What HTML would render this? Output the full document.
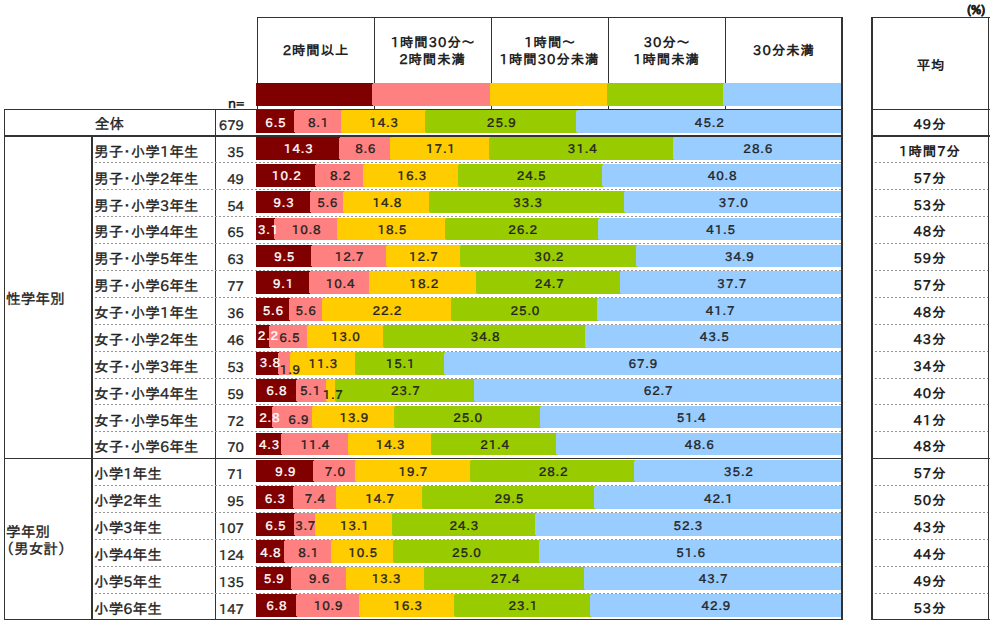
<!DOCTYPE html>
<html><head><meta charset="utf-8"><style>
*{margin:0;padding:0;box-sizing:border-box}
html,body{width:995px;height:625px;overflow:hidden;background:#fff}
body{position:relative;font-family:"IPAPGothic","Liberation Sans","IPAGothic","Noto Sans CJK JP",sans-serif;color:#222}
.a{position:absolute}
.l{position:absolute;background:#333}
.d{position:absolute;height:1px;background-image:linear-gradient(90deg,#969696 50%,transparent 50%);background-size:4px 1px}
.s{position:absolute}
.t{position:absolute;white-space:nowrap;line-height:1;-webkit-text-stroke:0.35px}
.v{position:absolute;white-space:nowrap;font:12px "IPAPGothic","Liberation Sans","IPAGothic",sans-serif;letter-spacing:1px;text-indent:1px;-webkit-text-stroke:0.4px;line-height:12px;text-align:center;width:60px}
.hd{position:absolute;font-weight:bold;font-size:13.33px;text-align:center;line-height:17px;white-space:nowrap;letter-spacing:1px;text-indent:1px}
</style></head><body>

<div class="t" style="left:967px;top:3px;font:bold 12px 'IPAPGothic','Liberation Sans',sans-serif;-webkit-text-stroke:0.5px">(%)</div>
<div class="l" style="left:257px;top:17px;width:586px;height:1px"></div>
<div class="l" style="left:257px;top:17px;width:1px;height:93px"></div>
<div class="l" style="left:374px;top:17px;width:1px;height:93px"></div>
<div class="l" style="left:491px;top:17px;width:1px;height:93px"></div>
<div class="l" style="left:608px;top:17px;width:1px;height:93px"></div>
<div class="l" style="left:725px;top:17px;width:1px;height:93px"></div>
<div class="l" style="left:841px;top:17px;width:2px;height:603px"></div>
<div class="hd" style="left:257px;top:41.5px;width:117px">2時間以上</div>
<div class="hd" style="left:374px;top:34.0px;width:117px">1時間30分～<br>2時間未満</div>
<div class="hd" style="left:491px;top:34.0px;width:117px">1時間～<br>1時間30分未満</div>
<div class="hd" style="left:608px;top:34.0px;width:117px">30分～<br>1時間未満</div>
<div class="hd" style="left:725px;top:41.5px;width:117px">30分未満</div>
<div class="s" style="left:256px;top:83px;width:116px;height:23px;background:#800000"></div>
<div class="s" style="left:372px;top:83px;width:118px;height:23px;background:#ff8080"></div>
<div class="s" style="left:490px;top:83px;width:117px;height:23px;background:#ffcc00"></div>
<div class="s" style="left:607px;top:83px;width:116px;height:23px;background:#99cc00"></div>
<div class="s" style="left:723px;top:83px;width:118px;height:23px;background:#99ccff"></div>
<div class="s" style="left:372px;top:83px;width:1px;height:1px;background:#800000"></div>
<div class="s" style="left:372px;top:105px;width:1px;height:1px;background:#800000"></div>
<div class="s" style="left:490px;top:83px;width:1px;height:1px;background:#ff8080"></div>
<div class="s" style="left:490px;top:105px;width:1px;height:1px;background:#ff8080"></div>
<div class="s" style="left:607px;top:83px;width:1px;height:1px;background:#ffcc00"></div>
<div class="s" style="left:607px;top:105px;width:1px;height:1px;background:#ffcc00"></div>
<div class="s" style="left:723px;top:83px;width:1px;height:1px;background:#99cc00"></div>
<div class="s" style="left:723px;top:105px;width:1px;height:1px;background:#99cc00"></div>
<div class="t" style="left:228px;top:97px;font-size:13.33px;font-weight:bold;-webkit-text-stroke:0">n=</div>
<div class="l" style="left:871px;top:17px;width:2px;height:603px"></div>
<div class="l" style="left:988px;top:17px;width:1px;height:603px"></div>
<div class="l" style="left:871px;top:17px;width:119px;height:1px"></div>
<div class="hd" style="left:873px;top:57px;width:115px">平均</div>
<div class="l" style="left:4px;top:109px;width:839px;height:1px"></div>
<div class="l" style="left:871px;top:109px;width:119px;height:1px"></div>
<div class="l" style="left:4px;top:109px;width:1px;height:511px"></div>
<div class="l" style="left:215px;top:109px;width:1px;height:511px"></div>
<div class="l" style="left:4px;top:135px;width:839px;height:2px"></div>
<div class="l" style="left:871px;top:135px;width:119px;height:2px"></div>
<div class="l" style="left:91px;top:135px;width:2px;height:485px"></div>
<div class="d" style="left:95px;top:162px;width:746px"></div>
<div class="d" style="left:875px;top:162px;width:113px"></div>
<div class="d" style="left:95px;top:189px;width:746px"></div>
<div class="d" style="left:875px;top:189px;width:113px"></div>
<div class="d" style="left:95px;top:216px;width:746px"></div>
<div class="d" style="left:875px;top:216px;width:113px"></div>
<div class="d" style="left:95px;top:243px;width:746px"></div>
<div class="d" style="left:875px;top:243px;width:113px"></div>
<div class="d" style="left:95px;top:270px;width:746px"></div>
<div class="d" style="left:875px;top:270px;width:113px"></div>
<div class="d" style="left:95px;top:297px;width:746px"></div>
<div class="d" style="left:875px;top:297px;width:113px"></div>
<div class="d" style="left:95px;top:324px;width:746px"></div>
<div class="d" style="left:875px;top:324px;width:113px"></div>
<div class="d" style="left:95px;top:351px;width:746px"></div>
<div class="d" style="left:875px;top:351px;width:113px"></div>
<div class="d" style="left:95px;top:378px;width:746px"></div>
<div class="d" style="left:875px;top:378px;width:113px"></div>
<div class="d" style="left:95px;top:404px;width:746px"></div>
<div class="d" style="left:875px;top:404px;width:113px"></div>
<div class="d" style="left:95px;top:431px;width:746px"></div>
<div class="d" style="left:875px;top:431px;width:113px"></div>
<div class="l" style="left:4px;top:458px;width:839px;height:1px"></div>
<div class="l" style="left:871px;top:458px;width:119px;height:1px"></div>
<div class="d" style="left:95px;top:485px;width:746px"></div>
<div class="d" style="left:875px;top:485px;width:113px"></div>
<div class="d" style="left:95px;top:512px;width:746px"></div>
<div class="d" style="left:875px;top:512px;width:113px"></div>
<div class="d" style="left:95px;top:539px;width:746px"></div>
<div class="d" style="left:875px;top:539px;width:113px"></div>
<div class="d" style="left:95px;top:566px;width:746px"></div>
<div class="d" style="left:875px;top:566px;width:113px"></div>
<div class="d" style="left:95px;top:593px;width:746px"></div>
<div class="d" style="left:875px;top:593px;width:113px"></div>
<div class="l" style="left:4px;top:619px;width:839px;height:1px"></div>
<div class="l" style="left:871px;top:619px;width:119px;height:1px"></div>
<div class="t" style="left:6px;top:292px;font-size:14.67px">性学年別</div>
<div class="t" style="left:6px;top:523px;font-size:14.67px;line-height:17px">学年別<br>（男女計）</div>
<div class="t" style="left:4px;width:211px;text-align:center;top:117px;font-size:14.67px">全体</div>
<div class="t" style="left:215px;width:29px;text-align:right;top:119.0px;font-size:13.33px">679</div>
<div class="t" style="left:871px;width:118px;text-align:center;top:118.0px;font-size:13.33px;font-weight:bold;letter-spacing:1px;-webkit-text-stroke:0">49分</div>
<div class="s" style="left:256px;top:110px;width:38px;height:23px;background:#800000"></div>
<div class="s" style="left:294px;top:110px;width:47px;height:23px;background:#ff8080"></div>
<div class="s" style="left:341px;top:110px;width:84px;height:23px;background:#ffcc00"></div>
<div class="s" style="left:425px;top:110px;width:151px;height:23px;background:#99cc00"></div>
<div class="s" style="left:576px;top:110px;width:265px;height:23px;background:#99ccff"></div>
<div class="s" style="left:294px;top:110px;width:1px;height:1px;background:#800000"></div>
<div class="s" style="left:294px;top:132px;width:1px;height:1px;background:#800000"></div>
<div class="s" style="left:341px;top:110px;width:1px;height:1px;background:#ff8080"></div>
<div class="s" style="left:341px;top:132px;width:1px;height:1px;background:#ff8080"></div>
<div class="s" style="left:425px;top:110px;width:1px;height:1px;background:#ffcc00"></div>
<div class="s" style="left:425px;top:132px;width:1px;height:1px;background:#ffcc00"></div>
<div class="s" style="left:576px;top:110px;width:1px;height:1px;background:#99cc00"></div>
<div class="s" style="left:576px;top:132px;width:1px;height:1px;background:#99cc00"></div>
<div class="v" style="left:245.5px;top:115.5px;color:#fff">6.5</div>
<div class="v" style="left:288.2px;top:115.5px;color:#222">8.1</div>
<div class="v" style="left:353.7px;top:115.5px;color:#222">14.3</div>
<div class="v" style="left:471.3px;top:115.5px;color:#222">25.9</div>
<div class="v" style="left:679.3px;top:115.5px;color:#222">45.2</div>
<div class="t" style="left:94px;top:144.8px;font-size:14.67px">男子・小学1年生</div>
<div class="t" style="left:215px;width:29px;text-align:right;top:145.8px;font-size:13.33px">35</div>
<div class="t" style="left:871px;width:118px;text-align:center;top:144.8px;font-size:13.33px;font-weight:bold;letter-spacing:1px;-webkit-text-stroke:0">1時間7分</div>
<div class="s" style="left:256px;top:137px;width:83px;height:23px;background:#800000"></div>
<div class="s" style="left:339px;top:137px;width:51px;height:23px;background:#ff8080"></div>
<div class="s" style="left:390px;top:137px;width:99px;height:23px;background:#ffcc00"></div>
<div class="s" style="left:489px;top:137px;width:184px;height:23px;background:#99cc00"></div>
<div class="s" style="left:673px;top:137px;width:168px;height:23px;background:#99ccff"></div>
<div class="s" style="left:339px;top:137px;width:1px;height:1px;background:#800000"></div>
<div class="s" style="left:339px;top:159px;width:1px;height:1px;background:#800000"></div>
<div class="s" style="left:390px;top:137px;width:1px;height:1px;background:#ff8080"></div>
<div class="s" style="left:390px;top:159px;width:1px;height:1px;background:#ff8080"></div>
<div class="s" style="left:489px;top:137px;width:1px;height:1px;background:#ffcc00"></div>
<div class="s" style="left:489px;top:159px;width:1px;height:1px;background:#ffcc00"></div>
<div class="s" style="left:673px;top:137px;width:1px;height:1px;background:#99cc00"></div>
<div class="s" style="left:673px;top:159px;width:1px;height:1px;background:#99cc00"></div>
<div class="v" style="left:268.3px;top:142.2px;color:#fff">14.3</div>
<div class="v" style="left:335.3px;top:142.2px;color:#222">8.6</div>
<div class="v" style="left:410.5px;top:142.2px;color:#222">17.1</div>
<div class="v" style="left:552.3px;top:142.2px;color:#222">31.4</div>
<div class="v" style="left:727.8px;top:142.2px;color:#222">28.6</div>
<div class="t" style="left:94px;top:171.6px;font-size:14.67px">男子・小学2年生</div>
<div class="t" style="left:215px;width:29px;text-align:right;top:172.6px;font-size:13.33px">49</div>
<div class="t" style="left:871px;width:118px;text-align:center;top:171.6px;font-size:13.33px;font-weight:bold;letter-spacing:1px;-webkit-text-stroke:0">57分</div>
<div class="s" style="left:256px;top:164px;width:59px;height:23px;background:#800000"></div>
<div class="s" style="left:315px;top:164px;width:48px;height:23px;background:#ff8080"></div>
<div class="s" style="left:363px;top:164px;width:95px;height:23px;background:#ffcc00"></div>
<div class="s" style="left:458px;top:164px;width:144px;height:23px;background:#99cc00"></div>
<div class="s" style="left:602px;top:164px;width:239px;height:23px;background:#99ccff"></div>
<div class="s" style="left:315px;top:164px;width:1px;height:1px;background:#800000"></div>
<div class="s" style="left:315px;top:186px;width:1px;height:1px;background:#800000"></div>
<div class="s" style="left:363px;top:164px;width:1px;height:1px;background:#ff8080"></div>
<div class="s" style="left:363px;top:186px;width:1px;height:1px;background:#ff8080"></div>
<div class="s" style="left:458px;top:164px;width:1px;height:1px;background:#ffcc00"></div>
<div class="s" style="left:458px;top:186px;width:1px;height:1px;background:#ffcc00"></div>
<div class="s" style="left:602px;top:164px;width:1px;height:1px;background:#99cc00"></div>
<div class="s" style="left:602px;top:186px;width:1px;height:1px;background:#99cc00"></div>
<div class="v" style="left:256.3px;top:169.1px;color:#fff">10.2</div>
<div class="v" style="left:310.2px;top:169.1px;color:#222">8.2</div>
<div class="v" style="left:381.8px;top:169.1px;color:#222">16.3</div>
<div class="v" style="left:501.2px;top:169.1px;color:#222">24.5</div>
<div class="v" style="left:692.2px;top:169.1px;color:#222">40.8</div>
<div class="t" style="left:94px;top:198.5px;font-size:14.67px">男子・小学3年生</div>
<div class="t" style="left:215px;width:29px;text-align:right;top:199.5px;font-size:13.33px">54</div>
<div class="t" style="left:871px;width:118px;text-align:center;top:198.5px;font-size:13.33px;font-weight:bold;letter-spacing:1px;-webkit-text-stroke:0">53分</div>
<div class="s" style="left:256px;top:191px;width:54px;height:22px;background:#800000"></div>
<div class="s" style="left:310px;top:191px;width:33px;height:22px;background:#ff8080"></div>
<div class="s" style="left:343px;top:191px;width:86px;height:22px;background:#ffcc00"></div>
<div class="s" style="left:429px;top:191px;width:195px;height:22px;background:#99cc00"></div>
<div class="s" style="left:624px;top:191px;width:217px;height:22px;background:#99ccff"></div>
<div class="s" style="left:310px;top:191px;width:1px;height:1px;background:#800000"></div>
<div class="s" style="left:310px;top:212px;width:1px;height:1px;background:#800000"></div>
<div class="s" style="left:343px;top:191px;width:1px;height:1px;background:#ff8080"></div>
<div class="s" style="left:343px;top:212px;width:1px;height:1px;background:#ff8080"></div>
<div class="s" style="left:429px;top:191px;width:1px;height:1px;background:#ffcc00"></div>
<div class="s" style="left:429px;top:212px;width:1px;height:1px;background:#ffcc00"></div>
<div class="s" style="left:624px;top:191px;width:1px;height:1px;background:#99cc00"></div>
<div class="s" style="left:624px;top:212px;width:1px;height:1px;background:#99cc00"></div>
<div class="v" style="left:253.7px;top:196.0px;color:#fff">9.3</div>
<div class="v" style="left:297.3px;top:196.0px;color:#222">5.6</div>
<div class="v" style="left:357.0px;top:196.0px;color:#222">14.8</div>
<div class="v" style="left:497.6px;top:196.0px;color:#222">33.3</div>
<div class="v" style="left:703.3px;top:196.0px;color:#222">37.0</div>
<div class="t" style="left:94px;top:225.4px;font-size:14.67px">男子・小学4年生</div>
<div class="t" style="left:215px;width:29px;text-align:right;top:226.4px;font-size:13.33px">65</div>
<div class="t" style="left:871px;width:118px;text-align:center;top:225.4px;font-size:13.33px;font-weight:bold;letter-spacing:1px;-webkit-text-stroke:0">48分</div>
<div class="s" style="left:256px;top:218px;width:18px;height:22px;background:#800000"></div>
<div class="s" style="left:274px;top:218px;width:63px;height:22px;background:#ff8080"></div>
<div class="s" style="left:337px;top:218px;width:108px;height:22px;background:#ffcc00"></div>
<div class="s" style="left:445px;top:218px;width:153px;height:22px;background:#99cc00"></div>
<div class="s" style="left:598px;top:218px;width:243px;height:22px;background:#99ccff"></div>
<div class="s" style="left:274px;top:218px;width:1px;height:1px;background:#800000"></div>
<div class="s" style="left:274px;top:239px;width:1px;height:1px;background:#800000"></div>
<div class="s" style="left:337px;top:218px;width:1px;height:1px;background:#ff8080"></div>
<div class="s" style="left:337px;top:239px;width:1px;height:1px;background:#ff8080"></div>
<div class="s" style="left:445px;top:218px;width:1px;height:1px;background:#ffcc00"></div>
<div class="s" style="left:445px;top:239px;width:1px;height:1px;background:#ffcc00"></div>
<div class="s" style="left:598px;top:218px;width:1px;height:1px;background:#99cc00"></div>
<div class="s" style="left:598px;top:239px;width:1px;height:1px;background:#99cc00"></div>
<div class="v" style="left:238.1px;top:222.9px;color:#fff">3.1</div>
<div class="v" style="left:276.2px;top:222.9px;color:#222">10.8</div>
<div class="v" style="left:361.9px;top:222.9px;color:#222">18.5</div>
<div class="v" style="left:492.7px;top:222.9px;color:#222">26.2</div>
<div class="v" style="left:690.7px;top:222.9px;color:#222">41.5</div>
<div class="t" style="left:94px;top:252.3px;font-size:14.67px">男子・小学5年生</div>
<div class="t" style="left:215px;width:29px;text-align:right;top:253.3px;font-size:13.33px">63</div>
<div class="t" style="left:871px;width:118px;text-align:center;top:252.3px;font-size:13.33px;font-weight:bold;letter-spacing:1px;-webkit-text-stroke:0">59分</div>
<div class="s" style="left:256px;top:245px;width:55px;height:22px;background:#800000"></div>
<div class="s" style="left:311px;top:245px;width:75px;height:22px;background:#ff8080"></div>
<div class="s" style="left:386px;top:245px;width:74px;height:22px;background:#ffcc00"></div>
<div class="s" style="left:460px;top:245px;width:176px;height:22px;background:#99cc00"></div>
<div class="s" style="left:636px;top:245px;width:205px;height:22px;background:#99ccff"></div>
<div class="s" style="left:311px;top:245px;width:1px;height:1px;background:#800000"></div>
<div class="s" style="left:311px;top:266px;width:1px;height:1px;background:#800000"></div>
<div class="s" style="left:386px;top:245px;width:1px;height:1px;background:#ff8080"></div>
<div class="s" style="left:386px;top:266px;width:1px;height:1px;background:#ff8080"></div>
<div class="s" style="left:460px;top:245px;width:1px;height:1px;background:#ffcc00"></div>
<div class="s" style="left:460px;top:266px;width:1px;height:1px;background:#ffcc00"></div>
<div class="s" style="left:636px;top:245px;width:1px;height:1px;background:#99cc00"></div>
<div class="s" style="left:636px;top:266px;width:1px;height:1px;background:#99cc00"></div>
<div class="v" style="left:254.3px;top:249.8px;color:#fff">9.5</div>
<div class="v" style="left:319.2px;top:249.8px;color:#222">12.7</div>
<div class="v" style="left:393.5px;top:249.8px;color:#222">12.7</div>
<div class="v" style="left:519.0px;top:249.8px;color:#222">30.2</div>
<div class="v" style="left:709.4px;top:249.8px;color:#222">34.9</div>
<div class="t" style="left:94px;top:279.1px;font-size:14.67px">男子・小学6年生</div>
<div class="t" style="left:215px;width:29px;text-align:right;top:280.1px;font-size:13.33px">77</div>
<div class="t" style="left:871px;width:118px;text-align:center;top:279.1px;font-size:13.33px;font-weight:bold;letter-spacing:1px;-webkit-text-stroke:0">57分</div>
<div class="s" style="left:256px;top:271px;width:53px;height:23px;background:#800000"></div>
<div class="s" style="left:309px;top:271px;width:60px;height:23px;background:#ff8080"></div>
<div class="s" style="left:369px;top:271px;width:107px;height:23px;background:#ffcc00"></div>
<div class="s" style="left:476px;top:271px;width:144px;height:23px;background:#99cc00"></div>
<div class="s" style="left:620px;top:271px;width:221px;height:23px;background:#99ccff"></div>
<div class="s" style="left:309px;top:271px;width:1px;height:1px;background:#800000"></div>
<div class="s" style="left:309px;top:293px;width:1px;height:1px;background:#800000"></div>
<div class="s" style="left:369px;top:271px;width:1px;height:1px;background:#ff8080"></div>
<div class="s" style="left:369px;top:293px;width:1px;height:1px;background:#ff8080"></div>
<div class="s" style="left:476px;top:271px;width:1px;height:1px;background:#ffcc00"></div>
<div class="s" style="left:476px;top:293px;width:1px;height:1px;background:#ffcc00"></div>
<div class="s" style="left:620px;top:271px;width:1px;height:1px;background:#99cc00"></div>
<div class="s" style="left:620px;top:293px;width:1px;height:1px;background:#99cc00"></div>
<div class="v" style="left:253.1px;top:276.6px;color:#fff">9.1</div>
<div class="v" style="left:310.2px;top:276.6px;color:#222">10.4</div>
<div class="v" style="left:393.8px;top:276.6px;color:#222">18.2</div>
<div class="v" style="left:519.3px;top:276.6px;color:#222">24.7</div>
<div class="v" style="left:701.8px;top:276.6px;color:#222">37.7</div>
<div class="t" style="left:94px;top:306.0px;font-size:14.67px">女子・小学1年生</div>
<div class="t" style="left:215px;width:29px;text-align:right;top:307.0px;font-size:13.33px">36</div>
<div class="t" style="left:871px;width:118px;text-align:center;top:306.0px;font-size:13.33px;font-weight:bold;letter-spacing:1px;-webkit-text-stroke:0">48分</div>
<div class="s" style="left:256px;top:298px;width:33px;height:23px;background:#800000"></div>
<div class="s" style="left:289px;top:298px;width:33px;height:23px;background:#ff8080"></div>
<div class="s" style="left:322px;top:298px;width:129px;height:23px;background:#ffcc00"></div>
<div class="s" style="left:451px;top:298px;width:146px;height:23px;background:#99cc00"></div>
<div class="s" style="left:597px;top:298px;width:244px;height:23px;background:#99ccff"></div>
<div class="s" style="left:289px;top:298px;width:1px;height:1px;background:#800000"></div>
<div class="s" style="left:289px;top:320px;width:1px;height:1px;background:#800000"></div>
<div class="s" style="left:322px;top:298px;width:1px;height:1px;background:#ff8080"></div>
<div class="s" style="left:322px;top:320px;width:1px;height:1px;background:#ff8080"></div>
<div class="s" style="left:451px;top:298px;width:1px;height:1px;background:#ffcc00"></div>
<div class="s" style="left:451px;top:320px;width:1px;height:1px;background:#ffcc00"></div>
<div class="s" style="left:597px;top:298px;width:1px;height:1px;background:#99cc00"></div>
<div class="s" style="left:597px;top:320px;width:1px;height:1px;background:#99cc00"></div>
<div class="v" style="left:242.9px;top:303.5px;color:#fff">5.6</div>
<div class="v" style="left:275.6px;top:303.5px;color:#222">5.6</div>
<div class="v" style="left:357.0px;top:303.5px;color:#222">22.2</div>
<div class="v" style="left:495.0px;top:303.5px;color:#222">25.0</div>
<div class="v" style="left:690.1px;top:303.5px;color:#222">41.7</div>
<div class="t" style="left:94px;top:332.9px;font-size:14.67px">女子・小学2年生</div>
<div class="t" style="left:215px;width:29px;text-align:right;top:333.9px;font-size:13.33px">46</div>
<div class="t" style="left:871px;width:118px;text-align:center;top:332.9px;font-size:13.33px;font-weight:bold;letter-spacing:1px;-webkit-text-stroke:0">43分</div>
<div class="s" style="left:256px;top:325px;width:13px;height:23px;background:#800000"></div>
<div class="s" style="left:269px;top:325px;width:38px;height:23px;background:#ff8080"></div>
<div class="s" style="left:307px;top:325px;width:76px;height:23px;background:#ffcc00"></div>
<div class="s" style="left:383px;top:325px;width:202px;height:23px;background:#99cc00"></div>
<div class="s" style="left:585px;top:325px;width:256px;height:23px;background:#99ccff"></div>
<div class="s" style="left:269px;top:325px;width:1px;height:1px;background:#800000"></div>
<div class="s" style="left:269px;top:347px;width:1px;height:1px;background:#800000"></div>
<div class="s" style="left:307px;top:325px;width:1px;height:1px;background:#ff8080"></div>
<div class="s" style="left:307px;top:347px;width:1px;height:1px;background:#ff8080"></div>
<div class="s" style="left:383px;top:325px;width:1px;height:1px;background:#ffcc00"></div>
<div class="s" style="left:383px;top:347px;width:1px;height:1px;background:#ffcc00"></div>
<div class="s" style="left:585px;top:325px;width:1px;height:1px;background:#99cc00"></div>
<div class="s" style="left:585px;top:347px;width:1px;height:1px;background:#99cc00"></div>
<div class="v" style="left:238.0px;top:329.4px;color:#fff">2.2</div>
<div class="v" style="left:259.4px;top:331.4px;color:#222">6.5</div>
<div class="v" style="left:315.4px;top:330.4px;color:#222">13.0</div>
<div class="v" style="left:455.2px;top:330.4px;color:#222">34.8</div>
<div class="v" style="left:684.3px;top:330.4px;color:#222">43.5</div>
<div class="t" style="left:94px;top:359.8px;font-size:14.67px">女子・小学3年生</div>
<div class="t" style="left:215px;width:29px;text-align:right;top:360.8px;font-size:13.33px">53</div>
<div class="t" style="left:871px;width:118px;text-align:center;top:359.8px;font-size:13.33px;font-weight:bold;letter-spacing:1px;-webkit-text-stroke:0">34分</div>
<div class="s" style="left:256px;top:352px;width:22px;height:23px;background:#800000"></div>
<div class="s" style="left:278px;top:352px;width:12px;height:23px;background:#ff8080"></div>
<div class="s" style="left:290px;top:352px;width:65px;height:23px;background:#ffcc00"></div>
<div class="s" style="left:355px;top:352px;width:89px;height:23px;background:#99cc00"></div>
<div class="s" style="left:444px;top:352px;width:397px;height:23px;background:#99ccff"></div>
<div class="s" style="left:278px;top:352px;width:1px;height:1px;background:#800000"></div>
<div class="s" style="left:278px;top:374px;width:1px;height:1px;background:#800000"></div>
<div class="s" style="left:290px;top:352px;width:1px;height:1px;background:#ff8080"></div>
<div class="s" style="left:290px;top:374px;width:1px;height:1px;background:#ff8080"></div>
<div class="s" style="left:355px;top:352px;width:1px;height:1px;background:#ffcc00"></div>
<div class="s" style="left:355px;top:374px;width:1px;height:1px;background:#ffcc00"></div>
<div class="s" style="left:444px;top:352px;width:1px;height:1px;background:#99cc00"></div>
<div class="s" style="left:444px;top:374px;width:1px;height:1px;background:#99cc00"></div>
<div class="v" style="left:240.0px;top:356.3px;color:#fff">3.8</div>
<div class="v" style="left:260.0px;top:363.3px;color:#222">1.9</div>
<div class="v" style="left:292.9px;top:357.3px;color:#222">11.3</div>
<div class="v" style="left:370.1px;top:357.3px;color:#222">15.1</div>
<div class="v" style="left:612.9px;top:357.3px;color:#222">67.9</div>
<div class="t" style="left:94px;top:386.7px;font-size:14.67px">女子・小学4年生</div>
<div class="t" style="left:215px;width:29px;text-align:right;top:387.7px;font-size:13.33px">59</div>
<div class="t" style="left:871px;width:118px;text-align:center;top:386.7px;font-size:13.33px;font-weight:bold;letter-spacing:1px;-webkit-text-stroke:0">40分</div>
<div class="s" style="left:256px;top:379px;width:40px;height:23px;background:#800000"></div>
<div class="s" style="left:296px;top:379px;width:30px;height:23px;background:#ff8080"></div>
<div class="s" style="left:326px;top:379px;width:9px;height:23px;background:#ffcc00"></div>
<div class="s" style="left:335px;top:379px;width:139px;height:23px;background:#99cc00"></div>
<div class="s" style="left:474px;top:379px;width:367px;height:23px;background:#99ccff"></div>
<div class="s" style="left:296px;top:379px;width:1px;height:1px;background:#800000"></div>
<div class="s" style="left:296px;top:401px;width:1px;height:1px;background:#800000"></div>
<div class="s" style="left:326px;top:379px;width:1px;height:1px;background:#ff8080"></div>
<div class="s" style="left:326px;top:401px;width:1px;height:1px;background:#ff8080"></div>
<div class="s" style="left:335px;top:379px;width:1px;height:1px;background:#ffcc00"></div>
<div class="s" style="left:335px;top:401px;width:1px;height:1px;background:#ffcc00"></div>
<div class="s" style="left:474px;top:379px;width:1px;height:1px;background:#99cc00"></div>
<div class="s" style="left:474px;top:401px;width:1px;height:1px;background:#99cc00"></div>
<div class="v" style="left:246.4px;top:384.2px;color:#fff">6.8</div>
<div class="v" style="left:280.2px;top:384.2px;color:#222">5.1</div>
<div class="v" style="left:302.8px;top:388.2px;color:#222">1.7</div>
<div class="v" style="left:375.4px;top:384.2px;color:#222">23.7</div>
<div class="v" style="left:628.1px;top:384.2px;color:#222">62.7</div>
<div class="t" style="left:94px;top:413.6px;font-size:14.67px">女子・小学5年生</div>
<div class="t" style="left:215px;width:29px;text-align:right;top:414.6px;font-size:13.33px">72</div>
<div class="t" style="left:871px;width:118px;text-align:center;top:413.6px;font-size:13.33px;font-weight:bold;letter-spacing:1px;-webkit-text-stroke:0">41分</div>
<div class="s" style="left:256px;top:406px;width:16px;height:22px;background:#800000"></div>
<div class="s" style="left:272px;top:406px;width:40px;height:22px;background:#ff8080"></div>
<div class="s" style="left:312px;top:406px;width:82px;height:22px;background:#ffcc00"></div>
<div class="s" style="left:394px;top:406px;width:146px;height:22px;background:#99cc00"></div>
<div class="s" style="left:540px;top:406px;width:301px;height:22px;background:#99ccff"></div>
<div class="s" style="left:272px;top:406px;width:1px;height:1px;background:#800000"></div>
<div class="s" style="left:272px;top:427px;width:1px;height:1px;background:#800000"></div>
<div class="s" style="left:312px;top:406px;width:1px;height:1px;background:#ff8080"></div>
<div class="s" style="left:312px;top:427px;width:1px;height:1px;background:#ff8080"></div>
<div class="s" style="left:394px;top:406px;width:1px;height:1px;background:#ffcc00"></div>
<div class="s" style="left:394px;top:427px;width:1px;height:1px;background:#ffcc00"></div>
<div class="s" style="left:540px;top:406px;width:1px;height:1px;background:#99cc00"></div>
<div class="s" style="left:540px;top:427px;width:1px;height:1px;background:#99cc00"></div>
<div class="v" style="left:239.4px;top:411.1px;color:#fff">2.8</div>
<div class="v" style="left:268.5px;top:413.1px;color:#222">6.9</div>
<div class="v" style="left:323.9px;top:411.1px;color:#222">13.9</div>
<div class="v" style="left:437.7px;top:411.1px;color:#222">25.0</div>
<div class="v" style="left:661.2px;top:411.1px;color:#222">51.4</div>
<div class="t" style="left:94px;top:440.4px;font-size:14.67px">女子・小学6年生</div>
<div class="t" style="left:215px;width:29px;text-align:right;top:441.4px;font-size:13.33px">70</div>
<div class="t" style="left:871px;width:118px;text-align:center;top:440.4px;font-size:13.33px;font-weight:bold;letter-spacing:1px;-webkit-text-stroke:0">48分</div>
<div class="s" style="left:256px;top:433px;width:25px;height:22px;background:#800000"></div>
<div class="s" style="left:281px;top:433px;width:67px;height:22px;background:#ff8080"></div>
<div class="s" style="left:348px;top:433px;width:83px;height:22px;background:#ffcc00"></div>
<div class="s" style="left:431px;top:433px;width:125px;height:22px;background:#99cc00"></div>
<div class="s" style="left:556px;top:433px;width:285px;height:22px;background:#99ccff"></div>
<div class="s" style="left:281px;top:433px;width:1px;height:1px;background:#800000"></div>
<div class="s" style="left:281px;top:454px;width:1px;height:1px;background:#800000"></div>
<div class="s" style="left:348px;top:433px;width:1px;height:1px;background:#ff8080"></div>
<div class="s" style="left:348px;top:454px;width:1px;height:1px;background:#ff8080"></div>
<div class="s" style="left:431px;top:433px;width:1px;height:1px;background:#ffcc00"></div>
<div class="s" style="left:431px;top:454px;width:1px;height:1px;background:#ffcc00"></div>
<div class="s" style="left:556px;top:433px;width:1px;height:1px;background:#99cc00"></div>
<div class="s" style="left:556px;top:454px;width:1px;height:1px;background:#99cc00"></div>
<div class="v" style="left:239.1px;top:437.9px;color:#fff">4.3</div>
<div class="v" style="left:285.0px;top:437.9px;color:#222">11.4</div>
<div class="v" style="left:360.2px;top:437.9px;color:#222">14.3</div>
<div class="v" style="left:464.6px;top:437.9px;color:#222">21.4</div>
<div class="v" style="left:669.3px;top:437.9px;color:#222">48.6</div>
<div class="t" style="left:94px;top:467.3px;font-size:14.67px">小学1年生</div>
<div class="t" style="left:215px;width:29px;text-align:right;top:468.3px;font-size:13.33px">71</div>
<div class="t" style="left:871px;width:118px;text-align:center;top:467.3px;font-size:13.33px;font-weight:bold;letter-spacing:1px;-webkit-text-stroke:0">57分</div>
<div class="s" style="left:256px;top:460px;width:57px;height:22px;background:#800000"></div>
<div class="s" style="left:313px;top:460px;width:42px;height:22px;background:#ff8080"></div>
<div class="s" style="left:355px;top:460px;width:115px;height:22px;background:#ffcc00"></div>
<div class="s" style="left:470px;top:460px;width:164px;height:22px;background:#99cc00"></div>
<div class="s" style="left:634px;top:460px;width:207px;height:22px;background:#99ccff"></div>
<div class="s" style="left:313px;top:460px;width:1px;height:1px;background:#800000"></div>
<div class="s" style="left:313px;top:481px;width:1px;height:1px;background:#800000"></div>
<div class="s" style="left:355px;top:460px;width:1px;height:1px;background:#ff8080"></div>
<div class="s" style="left:355px;top:481px;width:1px;height:1px;background:#ff8080"></div>
<div class="s" style="left:470px;top:460px;width:1px;height:1px;background:#ffcc00"></div>
<div class="s" style="left:470px;top:481px;width:1px;height:1px;background:#ffcc00"></div>
<div class="s" style="left:634px;top:460px;width:1px;height:1px;background:#99cc00"></div>
<div class="s" style="left:634px;top:481px;width:1px;height:1px;background:#99cc00"></div>
<div class="v" style="left:255.5px;top:464.8px;color:#fff">9.9</div>
<div class="v" style="left:304.9px;top:464.8px;color:#222">7.0</div>
<div class="v" style="left:383.0px;top:464.8px;color:#222">19.7</div>
<div class="v" style="left:523.1px;top:464.8px;color:#222">28.2</div>
<div class="v" style="left:708.5px;top:464.8px;color:#222">35.2</div>
<div class="t" style="left:94px;top:494.2px;font-size:14.67px">小学2年生</div>
<div class="t" style="left:215px;width:29px;text-align:right;top:495.2px;font-size:13.33px">95</div>
<div class="t" style="left:871px;width:118px;text-align:center;top:494.2px;font-size:13.33px;font-weight:bold;letter-spacing:1px;-webkit-text-stroke:0">50分</div>
<div class="s" style="left:256px;top:486px;width:37px;height:23px;background:#800000"></div>
<div class="s" style="left:293px;top:486px;width:43px;height:23px;background:#ff8080"></div>
<div class="s" style="left:336px;top:486px;width:86px;height:23px;background:#ffcc00"></div>
<div class="s" style="left:422px;top:486px;width:172px;height:23px;background:#99cc00"></div>
<div class="s" style="left:594px;top:486px;width:247px;height:23px;background:#99ccff"></div>
<div class="s" style="left:293px;top:486px;width:1px;height:1px;background:#800000"></div>
<div class="s" style="left:293px;top:508px;width:1px;height:1px;background:#800000"></div>
<div class="s" style="left:336px;top:486px;width:1px;height:1px;background:#ff8080"></div>
<div class="s" style="left:336px;top:508px;width:1px;height:1px;background:#ff8080"></div>
<div class="s" style="left:422px;top:486px;width:1px;height:1px;background:#ffcc00"></div>
<div class="s" style="left:422px;top:508px;width:1px;height:1px;background:#ffcc00"></div>
<div class="s" style="left:594px;top:486px;width:1px;height:1px;background:#99cc00"></div>
<div class="s" style="left:594px;top:508px;width:1px;height:1px;background:#99cc00"></div>
<div class="v" style="left:244.9px;top:491.7px;color:#fff">6.3</div>
<div class="v" style="left:285.0px;top:491.7px;color:#222">7.4</div>
<div class="v" style="left:349.6px;top:491.7px;color:#222">14.7</div>
<div class="v" style="left:478.9px;top:491.7px;color:#222">29.5</div>
<div class="v" style="left:688.4px;top:491.7px;color:#222">42.1</div>
<div class="t" style="left:94px;top:521.1px;font-size:14.67px">小学3年生</div>
<div class="t" style="left:215px;width:29px;text-align:right;top:522.1px;font-size:13.33px">107</div>
<div class="t" style="left:871px;width:118px;text-align:center;top:521.1px;font-size:13.33px;font-weight:bold;letter-spacing:1px;-webkit-text-stroke:0">43分</div>
<div class="s" style="left:256px;top:513px;width:38px;height:23px;background:#800000"></div>
<div class="s" style="left:294px;top:513px;width:21px;height:23px;background:#ff8080"></div>
<div class="s" style="left:315px;top:513px;width:77px;height:23px;background:#ffcc00"></div>
<div class="s" style="left:392px;top:513px;width:143px;height:23px;background:#99cc00"></div>
<div class="s" style="left:535px;top:513px;width:306px;height:23px;background:#99ccff"></div>
<div class="s" style="left:294px;top:513px;width:1px;height:1px;background:#800000"></div>
<div class="s" style="left:294px;top:535px;width:1px;height:1px;background:#800000"></div>
<div class="s" style="left:315px;top:513px;width:1px;height:1px;background:#ff8080"></div>
<div class="s" style="left:315px;top:535px;width:1px;height:1px;background:#ff8080"></div>
<div class="s" style="left:392px;top:513px;width:1px;height:1px;background:#ffcc00"></div>
<div class="s" style="left:392px;top:535px;width:1px;height:1px;background:#ffcc00"></div>
<div class="s" style="left:535px;top:513px;width:1px;height:1px;background:#99cc00"></div>
<div class="s" style="left:535px;top:535px;width:1px;height:1px;background:#99cc00"></div>
<div class="v" style="left:245.5px;top:518.6px;color:#fff">6.5</div>
<div class="v" style="left:275.3px;top:518.6px;color:#222">3.7</div>
<div class="v" style="left:324.5px;top:518.6px;color:#222">13.1</div>
<div class="v" style="left:433.9px;top:518.6px;color:#222">24.3</div>
<div class="v" style="left:657.9px;top:518.6px;color:#222">52.3</div>
<div class="t" style="left:94px;top:548.0px;font-size:14.67px">小学4年生</div>
<div class="t" style="left:215px;width:29px;text-align:right;top:549.0px;font-size:13.33px">124</div>
<div class="t" style="left:871px;width:118px;text-align:center;top:548.0px;font-size:13.33px;font-weight:bold;letter-spacing:1px;-webkit-text-stroke:0">44分</div>
<div class="s" style="left:256px;top:540px;width:28px;height:23px;background:#800000"></div>
<div class="s" style="left:284px;top:540px;width:47px;height:23px;background:#ff8080"></div>
<div class="s" style="left:331px;top:540px;width:62px;height:23px;background:#ffcc00"></div>
<div class="s" style="left:393px;top:540px;width:146px;height:23px;background:#99cc00"></div>
<div class="s" style="left:539px;top:540px;width:302px;height:23px;background:#99ccff"></div>
<div class="s" style="left:284px;top:540px;width:1px;height:1px;background:#800000"></div>
<div class="s" style="left:284px;top:562px;width:1px;height:1px;background:#800000"></div>
<div class="s" style="left:331px;top:540px;width:1px;height:1px;background:#ff8080"></div>
<div class="s" style="left:331px;top:562px;width:1px;height:1px;background:#ff8080"></div>
<div class="s" style="left:393px;top:540px;width:1px;height:1px;background:#ffcc00"></div>
<div class="s" style="left:393px;top:562px;width:1px;height:1px;background:#ffcc00"></div>
<div class="s" style="left:539px;top:540px;width:1px;height:1px;background:#99cc00"></div>
<div class="s" style="left:539px;top:562px;width:1px;height:1px;background:#99cc00"></div>
<div class="v" style="left:240.5px;top:545.5px;color:#fff">4.8</div>
<div class="v" style="left:278.3px;top:545.5px;color:#222">8.1</div>
<div class="v" style="left:332.7px;top:545.5px;color:#222">10.5</div>
<div class="v" style="left:436.5px;top:545.5px;color:#222">25.0</div>
<div class="v" style="left:660.6px;top:545.5px;color:#222">51.6</div>
<div class="t" style="left:94px;top:574.8px;font-size:14.67px">小学5年生</div>
<div class="t" style="left:215px;width:29px;text-align:right;top:575.8px;font-size:13.33px">135</div>
<div class="t" style="left:871px;width:118px;text-align:center;top:574.8px;font-size:13.33px;font-weight:bold;letter-spacing:1px;-webkit-text-stroke:0">49分</div>
<div class="s" style="left:256px;top:567px;width:35px;height:23px;background:#800000"></div>
<div class="s" style="left:291px;top:567px;width:55px;height:23px;background:#ff8080"></div>
<div class="s" style="left:346px;top:567px;width:78px;height:23px;background:#ffcc00"></div>
<div class="s" style="left:424px;top:567px;width:160px;height:23px;background:#99cc00"></div>
<div class="s" style="left:584px;top:567px;width:257px;height:23px;background:#99ccff"></div>
<div class="s" style="left:291px;top:567px;width:1px;height:1px;background:#800000"></div>
<div class="s" style="left:291px;top:589px;width:1px;height:1px;background:#800000"></div>
<div class="s" style="left:346px;top:567px;width:1px;height:1px;background:#ff8080"></div>
<div class="s" style="left:346px;top:589px;width:1px;height:1px;background:#ff8080"></div>
<div class="s" style="left:424px;top:567px;width:1px;height:1px;background:#ffcc00"></div>
<div class="s" style="left:424px;top:589px;width:1px;height:1px;background:#ffcc00"></div>
<div class="s" style="left:584px;top:567px;width:1px;height:1px;background:#99cc00"></div>
<div class="s" style="left:584px;top:589px;width:1px;height:1px;background:#99cc00"></div>
<div class="v" style="left:243.8px;top:572.3px;color:#fff">5.9</div>
<div class="v" style="left:289.1px;top:572.3px;color:#222">9.6</div>
<div class="v" style="left:356.1px;top:572.3px;color:#222">13.3</div>
<div class="v" style="left:475.1px;top:572.3px;color:#222">27.4</div>
<div class="v" style="left:683.1px;top:572.3px;color:#222">43.7</div>
<div class="t" style="left:94px;top:601.7px;font-size:14.67px">小学6年生</div>
<div class="t" style="left:215px;width:29px;text-align:right;top:602.7px;font-size:13.33px">147</div>
<div class="t" style="left:871px;width:118px;text-align:center;top:601.7px;font-size:13.33px;font-weight:bold;letter-spacing:1px;-webkit-text-stroke:0">53分</div>
<div class="s" style="left:256px;top:594px;width:40px;height:23px;background:#800000"></div>
<div class="s" style="left:296px;top:594px;width:63px;height:23px;background:#ff8080"></div>
<div class="s" style="left:359px;top:594px;width:95px;height:23px;background:#ffcc00"></div>
<div class="s" style="left:454px;top:594px;width:136px;height:23px;background:#99cc00"></div>
<div class="s" style="left:590px;top:594px;width:251px;height:23px;background:#99ccff"></div>
<div class="s" style="left:296px;top:594px;width:1px;height:1px;background:#800000"></div>
<div class="s" style="left:296px;top:616px;width:1px;height:1px;background:#800000"></div>
<div class="s" style="left:359px;top:594px;width:1px;height:1px;background:#ff8080"></div>
<div class="s" style="left:359px;top:616px;width:1px;height:1px;background:#ff8080"></div>
<div class="s" style="left:454px;top:594px;width:1px;height:1px;background:#ffcc00"></div>
<div class="s" style="left:454px;top:616px;width:1px;height:1px;background:#ffcc00"></div>
<div class="s" style="left:590px;top:594px;width:1px;height:1px;background:#99cc00"></div>
<div class="s" style="left:590px;top:616px;width:1px;height:1px;background:#99cc00"></div>
<div class="v" style="left:246.4px;top:599.2px;color:#fff">6.8</div>
<div class="v" style="left:298.2px;top:599.2px;color:#222">10.9</div>
<div class="v" style="left:377.7px;top:599.2px;color:#222">16.3</div>
<div class="v" style="left:493.0px;top:599.2px;color:#222">23.1</div>
<div class="v" style="left:686.0px;top:599.2px;color:#222">42.9</div>
</body></html>
